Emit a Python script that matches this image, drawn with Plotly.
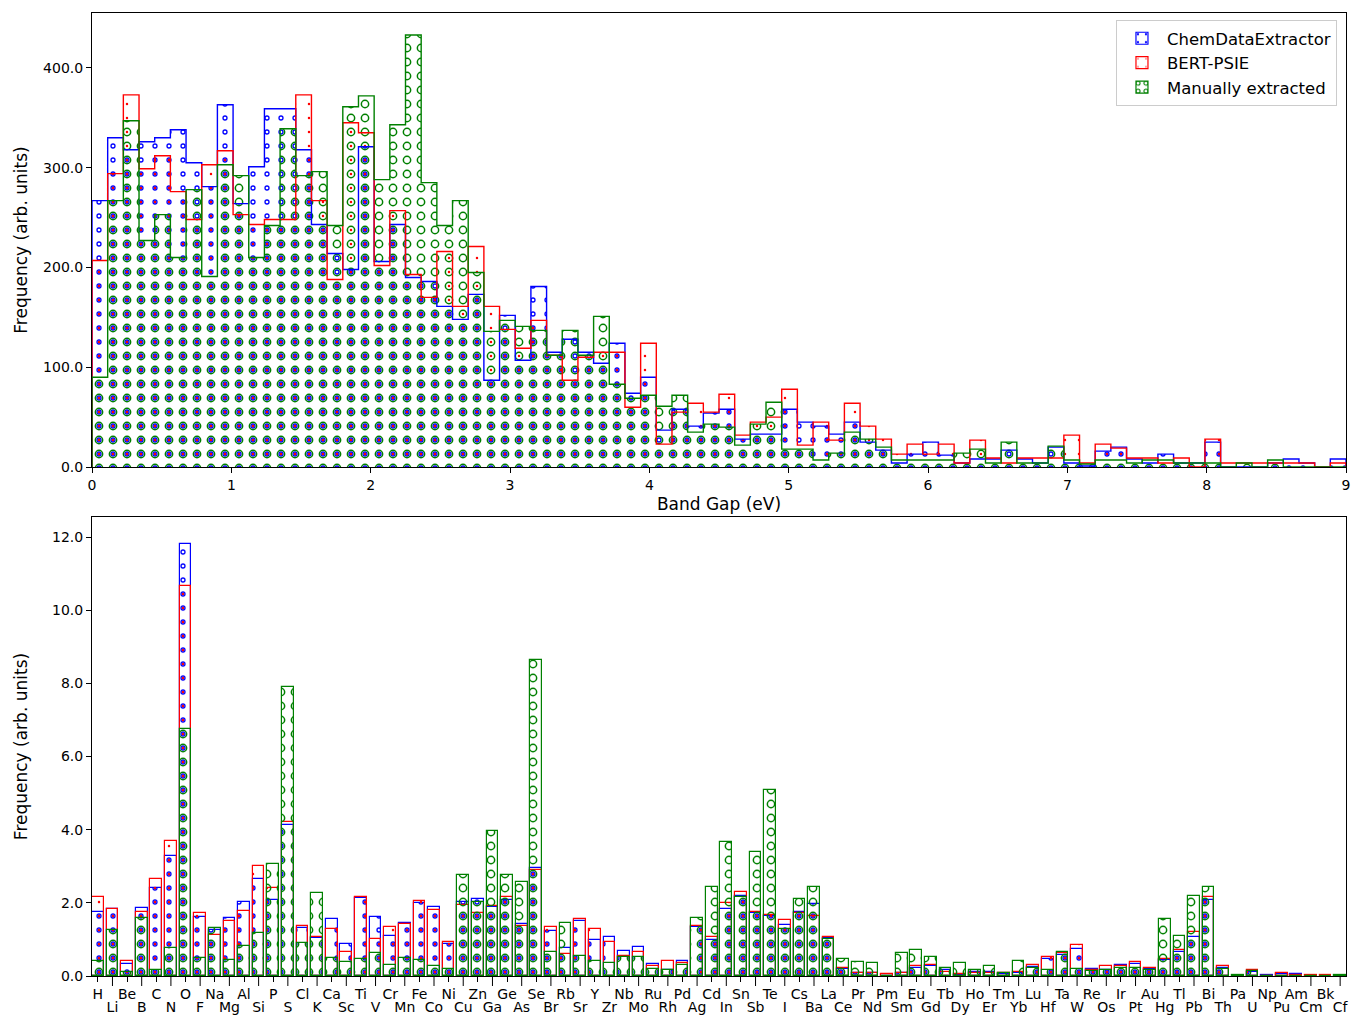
import numpy as np
import plotly.graph_objects as go

# ---------------- Top panel: band-gap histogram (80 bins, 0-9 eV) ----------------
gap_min, gap_max, n_bins = 0.0, 9.0, 80

cde_gap = [267, 330, 318, 326, 330, 338, 305, 281, 363, 264,
           301, 359, 359, 318, 243, 214, 198, 321, 206, 243,
           190, 186, 161, 148, 173, 87, 152, 107, 181, 115,
           128, 115, 104, 124, 74, 90, 37, 58, 41, 54,
           58, 28, 33, 33, 58, 45, 41, 33, 45, 25,
           17, 4, 13, 25, 12, 4, 8, 8, 17, 8,
           4, 20, 4, 1, 16, 20, 8, 4, 13, 4,
           4, 25, 0, 0, 0, 4, 8, 4, 0, 8]

bert_gap = [207, 294, 373, 299, 312, 276, 248, 303, 317, 253,
            243, 248, 248, 373, 267, 188, 345, 335, 202, 257,
            193, 170, 216, 161, 221, 161, 138, 119, 147, 112,
            87, 110, 115, 115, 60, 124, 23, 55, 64, 55,
            73, 32, 45, 50, 78, 22, 45, 27, 64, 41,
            28, 13, 23, 13, 23, 4, 27, 9, 4, 9,
            9, 9, 32, 4, 23, 19, 9, 9, 4, 9,
            0, 28, 4, 4, 4, 4, 4, 4, 0, 4]

manual_gap = [90, 267, 347, 227, 253, 210, 278, 191, 303, 292,
              210, 242, 339, 292, 296, 242, 361, 372, 288, 343,
              433, 285, 242, 267, 195, 136, 147, 141, 137, 112,
              137, 112, 151, 83, 69, 72, 61, 72, 35, 43,
              40, 22, 43, 65, 18, 18, 7, 14, 35, 28,
              20, 7, 7, 7, 7, 14, 18, 4, 25, 4,
              4, 21, 7, 3, 7, 7, 4, 7, 7, 4,
              4, 4, 0, 4, 0, 7, 0, 0, 0, 0]

gap_ticks = [0, 1, 2, 3, 4, 5, 6, 7, 8, 9]

# ---------------- Bottom panel: element frequency ----------------
elements = ["H", "Li", "Be", "B", "C", "N", "O", "F", "Na", "Mg", "Al", "Si", "P", "S",
            "Cl", "K", "Ca", "Sc", "Ti", "V", "Cr", "Mn", "Fe", "Co", "Ni", "Cu", "Zn",
            "Ga", "Ge", "As", "Se", "Br", "Rb", "Sr", "Y", "Zr", "Nb", "Mo", "Ru", "Rh",
            "Pd", "Ag", "Cd", "In", "Sn", "Sb", "Te", "I", "Cs", "Ba", "La", "Ce", "Pr",
            "Nd", "Pm", "Sm", "Eu", "Gd", "Tb", "Dy", "Ho", "Er", "Tm", "Yb", "Lu", "Hf",
            "Ta", "W", "Re", "Os", "Ir", "Pt", "Au", "Hg", "Tl", "Pb", "Bi", "Th", "Pa",
            "U", "Np", "Pu", "Am", "Cm", "Bk", "Cf"]

cde_elem = [1.76, 1.82, 0.32, 1.87, 2.40, 3.29, 11.82, 1.62, 1.26, 1.59, 2.03, 2.64, 2.09, 4.13,
            1.30, 1.03, 1.55, 0.87, 2.14, 1.62, 1.09, 1.46, 1.99, 1.88, 0.87, 2.03, 2.11,
            1.88, 2.08, 1.42, 2.94, 1.24, 0.76, 1.51, 0.97, 1.06, 0.68, 0.80, 0.33, 0.15,
            0.40, 1.33, 0.99, 1.82, 2.20, 1.71, 1.64, 1.39, 1.74, 1.97, 1.03, 0.18, 0.07,
            0.07, 0.01, 0.07, 0.21, 0.26, 0.16, 0.04, 0.12, 0.12, 0.05, 0.09, 0.24, 0.46,
            0.57, 0.73, 0.20, 0.15, 0.29, 0.33, 0.18, 0.44, 0.66, 1.07, 2.09, 0.21, 0.0,
            0.12, 0.03, 0.05, 0.05, 0.0, 0.0, 0.0]

bert_elem = [2.17, 1.82, 0.42, 1.76, 2.64, 3.70, 10.66, 1.73, 1.12, 1.50, 1.79, 3.01, 2.40, 4.20,
             1.38, 1.07, 1.28, 0.66, 2.15, 1.01, 1.35, 1.41, 2.06, 1.80, 0.93, 1.94, 1.73,
             1.91, 2.17, 1.38, 2.90, 1.33, 0.60, 1.57, 1.29, 0.94, 0.55, 0.66, 0.26, 0.42,
             0.36, 1.37, 1.06, 1.99, 2.30, 1.74, 1.68, 1.53, 1.71, 1.65, 1.06, 0.21, 0.09,
             0.09, 0.05, 0.09, 0.26, 0.30, 0.12, 0.05, 0.07, 0.09, 0.07, 0.12, 0.30, 0.51,
             0.62, 0.84, 0.16, 0.28, 0.27, 0.37, 0.21, 0.46, 0.71, 1.21, 2.15, 0.27, 0.0,
             0.16, 0.0, 0.07, 0.02, 0.03, 0.03, 0.0]

manual_elem = [0.41, 1.26, 0.12, 1.58, 0.15, 0.76, 6.75, 0.48, 1.30, 0.44, 0.82, 1.17, 3.05, 7.91,
               0.89, 2.26, 0.48, 0.37, 0.46, 0.64, 0.30, 0.48, 0.44, 0.26, 0.18, 2.76, 2.03,
               3.97, 2.76, 2.58, 8.65, 0.66, 1.44, 0.55, 0.42, 0.35, 0.52, 0.51, 0.18, 0.15,
               0.29, 1.58, 2.43, 3.67, 2.15, 3.38, 5.08, 1.28, 2.10, 2.42, 1.00, 0.46, 0.39,
               0.36, 0.0, 0.64, 0.71, 0.51, 0.23, 0.35, 0.16, 0.26, 0.07, 0.42, 0.21, 0.15,
               0.66, 0.19, 0.14, 0.16, 0.21, 0.23, 0.16, 1.55, 1.09, 2.19, 2.42, 0.19, 0.03,
               0.14, 0.0, 0.0, 0.0, 0.0, 0.0, 0.02]

series_names = ["ChemDataExtractor", "BERT-PSIE", "Manually extracted"]
series_colors = ["#0000ff", "#ff0000", "#008000"]
pattern_solidity = [0.064, 0.024, 0.215]

# ---------------- Build figure ----------------
edges = np.linspace(gap_min, gap_max, n_bins + 1)
centers = (edges[:-1] + edges[1:]) / 2
bw = edges[1] - edges[0]
idx = np.arange(len(elements))

fig = go.Figure()
gap_series = [cde_gap, bert_gap, manual_gap]
elem_series = [cde_elem, bert_elem, manual_elem]


def pattern(col, sol):
    return dict(shape=".", size=14, solidity=sol, fgcolor=col, fgopacity=1,
                fillmode="overlay")


for name, col, sol, g in zip(series_names, series_colors, pattern_solidity, gap_series):
    fig.add_trace(go.Bar(
        x=centers, y=g, width=bw, xaxis="x", yaxis="y", showlegend=False,
        marker=dict(color="rgba(0,0,0,0)", line=dict(width=0), pattern=pattern(col, sol)),
        hoverinfo="skip"))
for name, col, g in zip(series_names, series_colors, gap_series):
    xs = np.concatenate([[edges[0]], edges[:-1], [edges[-1]]])
    ys = np.concatenate([[0], g, [0]])
    fig.add_trace(go.Scatter(
        x=xs, y=ys, mode="lines", xaxis="x", yaxis="y", showlegend=False,
        line=dict(color=col, width=1.4, shape="hv"), hoverinfo="skip"))

for name, col, sol, e in zip(series_names, series_colors, pattern_solidity, elem_series):
    fig.add_trace(go.Bar(
        x=idx, y=e, width=0.8, name=name, xaxis="x2", yaxis="y2",
        marker=dict(color="rgba(0,0,0,0)", line=dict(color=col, width=1.2),
                    pattern=pattern(col, sol))))

# alternating two-row element labels (first row on x2, second row on overlaying x3)
row1_vals = [int(i) for i in idx if i % 2 == 0]
row1_text = [elements[i] for i in row1_vals]
row2_vals = [int(i) for i in idx if i % 2 == 1]
row2_text = [elements[i] for i in row2_vals]

# long visible ticks for the second-row labels
shapes = []
for i in row2_vals:
    shapes.append(dict(type="line", xref="x2", yref="paper", x0=i, x1=i,
                       y0=0, y1=-10 / 963, line=dict(color="black", width=1)))

axis_common = dict(showline=True, mirror=True, linecolor="black", linewidth=1,
                   ticks="outside", ticklen=5, tickcolor="black", showgrid=False,
                   zeroline=False, tickfont=dict(size=14, color="black"),
                   automargin=False)

x_range2 = [-0.4, len(elements) - 0.6]

fig.update_layout(
    width=1353, height=1015,
    margin=dict(l=92, r=7, t=13, b=39),
    paper_bgcolor="white", plot_bgcolor="white",
    barmode="overlay", bargap=0,
    font=dict(family="DejaVu Sans", size=14, color="black"),
    xaxis=dict(domain=[0, 1], anchor="y", range=[gap_min - 1e-6, gap_max + 1e-6],
               tickvals=gap_ticks, tickangle=0,
               title=dict(text="Band Gap (eV)", standoff=6), **axis_common),
    yaxis=dict(domain=[0.5285, 1], anchor="x", range=[0, 455], tickvals=[0, 100, 200, 300, 400],
               tickformat=".1f", title=dict(text="Frequency (arb. units)", standoff=11),
               **axis_common),
    xaxis2=dict(domain=[0, 1], anchor="y2", range=x_range2,
                tickvals=row1_vals, ticktext=row1_text, tickangle=0, **axis_common),
    xaxis3=dict(overlaying="x2", anchor="y2", side="bottom", range=x_range2,
                tickvals=row2_vals, ticktext=row2_text, tickangle=0,
                showline=False, ticks="outside", ticklen=18, tickcolor="rgba(0,0,0,0)",
                showgrid=False, zeroline=False, automargin=False,
                tickfont=dict(size=14, color="black")),
    yaxis2=dict(domain=[0, 0.4766], anchor="x2", range=[0, 12.55],
                tickvals=[0, 2, 4, 6, 8, 10, 12], tickformat=".1f",
                title=dict(text="Frequency (arb. units)", standoff=20), **axis_common),
    legend=dict(x=0.9928, y=0.9927, xanchor="right", yanchor="top",
                bordercolor="#cccccc", borderwidth=1, bgcolor="rgba(255,255,255,0.8)",
                font=dict(size=16.5), tracegroupgap=0, itemwidth=40),
    shapes=shapes,
)

# invisible helper trace so the overlaying label axis is drawn
fig.add_trace(go.Scatter(x=[x_range2[0]], y=[0], xaxis="x3", yaxis="y2", mode="markers",
                         marker=dict(opacity=0), showlegend=False, hoverinfo="skip"))

post_js = """
document.documentElement.style.margin = '0';
document.documentElement.style.padding = '0';
document.body.style.margin = '0';
document.body.style.padding = '0';
document.body.style.overflow = 'hidden';
var gd = document.getElementById('{plot_id}');
function ringify(){
  var cs = document.querySelectorAll('pattern circle');
  cs.forEach(function(c){
    var r = parseFloat(c.getAttribute('r'));
    if (r > 1.8) {
      var f = c.getAttribute('fill') || c.style.fill;
      if (!f || f === 'none') return;
      var w = r > 3 ? '1.5' : '1.3';
      c.setAttribute('fill', 'none');
      c.style.fill = 'none';
      c.setAttribute('stroke', f);
      c.style.stroke = f;
      c.setAttribute('stroke-width', w);
      c.style.strokeWidth = w;
    }
  });
}
ringify();
if (gd && gd.on) { gd.on('plotly_afterplot', ringify); }
"""

fig.write_html("out.html", post_script=post_js, config={"displayModeBar": False})
